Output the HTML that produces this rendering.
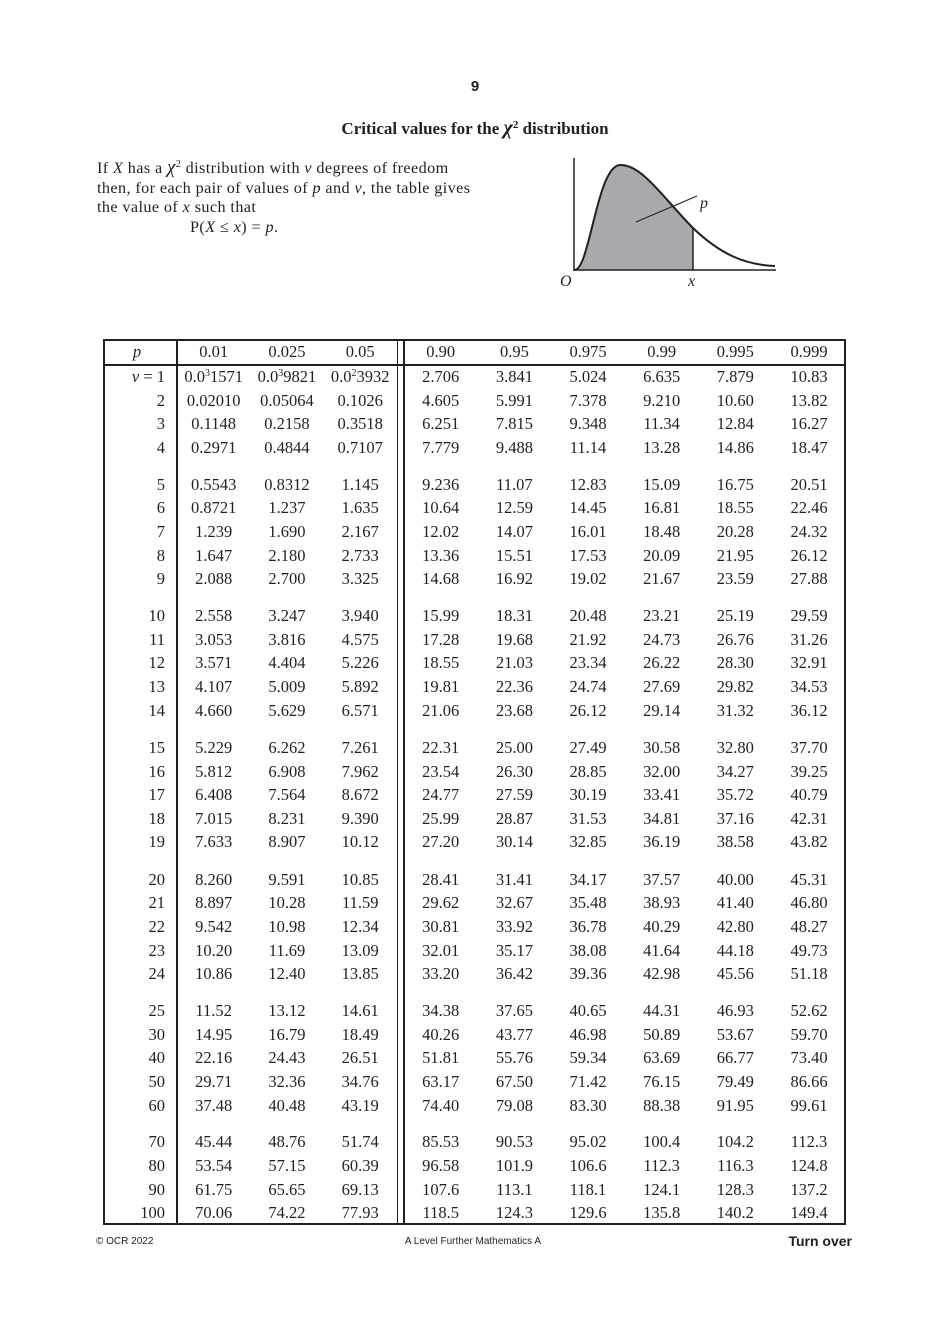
<!DOCTYPE html>
<html><head><meta charset="utf-8">
<style>
body{margin:0;background:#fff;}
#pg{position:relative;width:950px;height:1324px;overflow:hidden;font-family:"Liberation Serif",serif;color:#231f20;}
.a{position:absolute;white-space:nowrap;}
.row{position:absolute;left:103px;width:743px;height:24px;line-height:24px;font-size:16.5px;display:flex;}
.row .p{width:62px;text-align:right;padding-right:12px;}
.row .l{width:73.3px;text-align:center;}
.row .g{width:7px;}
.row .r{width:73.67px;text-align:center;}
.vl{position:absolute;background:#231f20;}
sup{font-size:10px;line-height:0;vertical-align:6px;}
</style></head><body><div id="pg">
<div class="a" style="left:0;width:950px;text-align:center;top:78px;font:bold 15px 'Liberation Sans',sans-serif;">9</div>
<div class="a" style="left:0;width:950px;text-align:center;top:117px;font-weight:bold;font-size:17px;">Critical values for the <i style="font-size:20px">χ</i><sup style="font-size:11px">2</sup> distribution</div>
<div class="a" style="left:97px;top:158px;font-size:16.2px;letter-spacing:0.4px;line-height:19.6px;">If <i>X</i> has a <i style="font-size:19px">χ</i><sup>2</sup> distribution with <i>v</i> degrees of freedom<br>then, for each pair of values of <i>p</i> and <i>v</i>, the table gives<br>the value of <i>x</i> such that<br><span style="padding-left:93px">P(<i>X</i> ≤ <i>x</i>) = <i>p</i>.</span></div>
<svg class="a" style="left:0;top:0" width="950" height="300">
<path d="M575,270 C590,268 597,166 620,165 C642,164 665,200 693,228 L693,270 Z" fill="#a7a9ac"/>
<path d="M575,270 C590,268 597,166 620,165 C642,164 665,200 693,228 C720,254 745,265 775,266" fill="none" stroke="#231f20" stroke-width="2"/>
<line x1="574" y1="158" x2="574" y2="271" stroke="#231f20" stroke-width="1.5"/>
<line x1="574" y1="270" x2="776" y2="270" stroke="#231f20" stroke-width="1.5"/>
<line x1="693" y1="228" x2="693" y2="270" stroke="#231f20" stroke-width="1.5"/>
<line x1="636" y1="222" x2="697" y2="196" stroke="#231f20" stroke-width="1"/>
<text x="700" y="208" font-family="Liberation Serif" font-style="italic" font-size="16" fill="#231f20">p</text>
<text x="560" y="286" font-family="Liberation Serif" font-style="italic" font-size="16" fill="#231f20">O</text>
<text x="688" y="286" font-family="Liberation Serif" font-style="italic" font-size="16" fill="#231f20">x</text>
</svg>
<div class="vl" style="left:103px;top:339px;width:743px;height:886px;background:none;border:2px solid #231f20;box-sizing:border-box;"></div>
<div class="vl" style="left:103px;top:364px;width:743px;height:2px"></div>
<div class="vl" style="left:176px;top:339px;width:2px;height:886px"></div>
<div class="vl" style="left:397px;top:339px;width:1px;height:886px"></div>
<div class="vl" style="left:403px;top:339px;width:2px;height:886px"></div>
<div class="row" style="top:340px"><div class="p" style="text-align:center;padding:0 6px 0 0;width:68px"><i>p</i></div><div class="l">0.01</div><div class="l">0.025</div><div class="l">0.05</div><div class="g"></div><div class="r">0.90</div><div class="r">0.95</div><div class="r">0.975</div><div class="r">0.99</div><div class="r">0.995</div><div class="r">0.999</div></div>
<div class="row" style="top:365px"><div class="p"><i>v</i> = 1</div><div class="l">0.0<sup>3</sup>1571</div><div class="l">0.0<sup>3</sup>9821</div><div class="l">0.0<sup>2</sup>3932</div><div class="g"></div><div class="r">2.706</div><div class="r">3.841</div><div class="r">5.024</div><div class="r">6.635</div><div class="r">7.879</div><div class="r">10.83</div></div>
<div class="row" style="top:389px"><div class="p">2</div><div class="l">0.02010</div><div class="l">0.05064</div><div class="l">0.1026</div><div class="g"></div><div class="r">4.605</div><div class="r">5.991</div><div class="r">7.378</div><div class="r">9.210</div><div class="r">10.60</div><div class="r">13.82</div></div>
<div class="row" style="top:412px"><div class="p">3</div><div class="l">0.1148</div><div class="l">0.2158</div><div class="l">0.3518</div><div class="g"></div><div class="r">6.251</div><div class="r">7.815</div><div class="r">9.348</div><div class="r">11.34</div><div class="r">12.84</div><div class="r">16.27</div></div>
<div class="row" style="top:436px"><div class="p">4</div><div class="l">0.2971</div><div class="l">0.4844</div><div class="l">0.7107</div><div class="g"></div><div class="r">7.779</div><div class="r">9.488</div><div class="r">11.14</div><div class="r">13.28</div><div class="r">14.86</div><div class="r">18.47</div></div>
<div class="row" style="top:473px"><div class="p">5</div><div class="l">0.5543</div><div class="l">0.8312</div><div class="l">1.145</div><div class="g"></div><div class="r">9.236</div><div class="r">11.07</div><div class="r">12.83</div><div class="r">15.09</div><div class="r">16.75</div><div class="r">20.51</div></div>
<div class="row" style="top:496px"><div class="p">6</div><div class="l">0.8721</div><div class="l">1.237</div><div class="l">1.635</div><div class="g"></div><div class="r">10.64</div><div class="r">12.59</div><div class="r">14.45</div><div class="r">16.81</div><div class="r">18.55</div><div class="r">22.46</div></div>
<div class="row" style="top:520px"><div class="p">7</div><div class="l">1.239</div><div class="l">1.690</div><div class="l">2.167</div><div class="g"></div><div class="r">12.02</div><div class="r">14.07</div><div class="r">16.01</div><div class="r">18.48</div><div class="r">20.28</div><div class="r">24.32</div></div>
<div class="row" style="top:544px"><div class="p">8</div><div class="l">1.647</div><div class="l">2.180</div><div class="l">2.733</div><div class="g"></div><div class="r">13.36</div><div class="r">15.51</div><div class="r">17.53</div><div class="r">20.09</div><div class="r">21.95</div><div class="r">26.12</div></div>
<div class="row" style="top:567px"><div class="p">9</div><div class="l">2.088</div><div class="l">2.700</div><div class="l">3.325</div><div class="g"></div><div class="r">14.68</div><div class="r">16.92</div><div class="r">19.02</div><div class="r">21.67</div><div class="r">23.59</div><div class="r">27.88</div></div>
<div class="row" style="top:604px"><div class="p">10</div><div class="l">2.558</div><div class="l">3.247</div><div class="l">3.940</div><div class="g"></div><div class="r">15.99</div><div class="r">18.31</div><div class="r">20.48</div><div class="r">23.21</div><div class="r">25.19</div><div class="r">29.59</div></div>
<div class="row" style="top:628px"><div class="p">11</div><div class="l">3.053</div><div class="l">3.816</div><div class="l">4.575</div><div class="g"></div><div class="r">17.28</div><div class="r">19.68</div><div class="r">21.92</div><div class="r">24.73</div><div class="r">26.76</div><div class="r">31.26</div></div>
<div class="row" style="top:651px"><div class="p">12</div><div class="l">3.571</div><div class="l">4.404</div><div class="l">5.226</div><div class="g"></div><div class="r">18.55</div><div class="r">21.03</div><div class="r">23.34</div><div class="r">26.22</div><div class="r">28.30</div><div class="r">32.91</div></div>
<div class="row" style="top:675px"><div class="p">13</div><div class="l">4.107</div><div class="l">5.009</div><div class="l">5.892</div><div class="g"></div><div class="r">19.81</div><div class="r">22.36</div><div class="r">24.74</div><div class="r">27.69</div><div class="r">29.82</div><div class="r">34.53</div></div>
<div class="row" style="top:699px"><div class="p">14</div><div class="l">4.660</div><div class="l">5.629</div><div class="l">6.571</div><div class="g"></div><div class="r">21.06</div><div class="r">23.68</div><div class="r">26.12</div><div class="r">29.14</div><div class="r">31.32</div><div class="r">36.12</div></div>
<div class="row" style="top:736px"><div class="p">15</div><div class="l">5.229</div><div class="l">6.262</div><div class="l">7.261</div><div class="g"></div><div class="r">22.31</div><div class="r">25.00</div><div class="r">27.49</div><div class="r">30.58</div><div class="r">32.80</div><div class="r">37.70</div></div>
<div class="row" style="top:760px"><div class="p">16</div><div class="l">5.812</div><div class="l">6.908</div><div class="l">7.962</div><div class="g"></div><div class="r">23.54</div><div class="r">26.30</div><div class="r">28.85</div><div class="r">32.00</div><div class="r">34.27</div><div class="r">39.25</div></div>
<div class="row" style="top:783px"><div class="p">17</div><div class="l">6.408</div><div class="l">7.564</div><div class="l">8.672</div><div class="g"></div><div class="r">24.77</div><div class="r">27.59</div><div class="r">30.19</div><div class="r">33.41</div><div class="r">35.72</div><div class="r">40.79</div></div>
<div class="row" style="top:807px"><div class="p">18</div><div class="l">7.015</div><div class="l">8.231</div><div class="l">9.390</div><div class="g"></div><div class="r">25.99</div><div class="r">28.87</div><div class="r">31.53</div><div class="r">34.81</div><div class="r">37.16</div><div class="r">42.31</div></div>
<div class="row" style="top:830px"><div class="p">19</div><div class="l">7.633</div><div class="l">8.907</div><div class="l">10.12</div><div class="g"></div><div class="r">27.20</div><div class="r">30.14</div><div class="r">32.85</div><div class="r">36.19</div><div class="r">38.58</div><div class="r">43.82</div></div>
<div class="row" style="top:868px"><div class="p">20</div><div class="l">8.260</div><div class="l">9.591</div><div class="l">10.85</div><div class="g"></div><div class="r">28.41</div><div class="r">31.41</div><div class="r">34.17</div><div class="r">37.57</div><div class="r">40.00</div><div class="r">45.31</div></div>
<div class="row" style="top:891px"><div class="p">21</div><div class="l">8.897</div><div class="l">10.28</div><div class="l">11.59</div><div class="g"></div><div class="r">29.62</div><div class="r">32.67</div><div class="r">35.48</div><div class="r">38.93</div><div class="r">41.40</div><div class="r">46.80</div></div>
<div class="row" style="top:915px"><div class="p">22</div><div class="l">9.542</div><div class="l">10.98</div><div class="l">12.34</div><div class="g"></div><div class="r">30.81</div><div class="r">33.92</div><div class="r">36.78</div><div class="r">40.29</div><div class="r">42.80</div><div class="r">48.27</div></div>
<div class="row" style="top:939px"><div class="p">23</div><div class="l">10.20</div><div class="l">11.69</div><div class="l">13.09</div><div class="g"></div><div class="r">32.01</div><div class="r">35.17</div><div class="r">38.08</div><div class="r">41.64</div><div class="r">44.18</div><div class="r">49.73</div></div>
<div class="row" style="top:962px"><div class="p">24</div><div class="l">10.86</div><div class="l">12.40</div><div class="l">13.85</div><div class="g"></div><div class="r">33.20</div><div class="r">36.42</div><div class="r">39.36</div><div class="r">42.98</div><div class="r">45.56</div><div class="r">51.18</div></div>
<div class="row" style="top:999px"><div class="p">25</div><div class="l">11.52</div><div class="l">13.12</div><div class="l">14.61</div><div class="g"></div><div class="r">34.38</div><div class="r">37.65</div><div class="r">40.65</div><div class="r">44.31</div><div class="r">46.93</div><div class="r">52.62</div></div>
<div class="row" style="top:1023px"><div class="p">30</div><div class="l">14.95</div><div class="l">16.79</div><div class="l">18.49</div><div class="g"></div><div class="r">40.26</div><div class="r">43.77</div><div class="r">46.98</div><div class="r">50.89</div><div class="r">53.67</div><div class="r">59.70</div></div>
<div class="row" style="top:1046px"><div class="p">40</div><div class="l">22.16</div><div class="l">24.43</div><div class="l">26.51</div><div class="g"></div><div class="r">51.81</div><div class="r">55.76</div><div class="r">59.34</div><div class="r">63.69</div><div class="r">66.77</div><div class="r">73.40</div></div>
<div class="row" style="top:1070px"><div class="p">50</div><div class="l">29.71</div><div class="l">32.36</div><div class="l">34.76</div><div class="g"></div><div class="r">63.17</div><div class="r">67.50</div><div class="r">71.42</div><div class="r">76.15</div><div class="r">79.49</div><div class="r">86.66</div></div>
<div class="row" style="top:1094px"><div class="p">60</div><div class="l">37.48</div><div class="l">40.48</div><div class="l">43.19</div><div class="g"></div><div class="r">74.40</div><div class="r">79.08</div><div class="r">83.30</div><div class="r">88.38</div><div class="r">91.95</div><div class="r">99.61</div></div>
<div class="row" style="top:1130px"><div class="p">70</div><div class="l">45.44</div><div class="l">48.76</div><div class="l">51.74</div><div class="g"></div><div class="r">85.53</div><div class="r">90.53</div><div class="r">95.02</div><div class="r">100.4</div><div class="r">104.2</div><div class="r">112.3</div></div>
<div class="row" style="top:1154px"><div class="p">80</div><div class="l">53.54</div><div class="l">57.15</div><div class="l">60.39</div><div class="g"></div><div class="r">96.58</div><div class="r">101.9</div><div class="r">106.6</div><div class="r">112.3</div><div class="r">116.3</div><div class="r">124.8</div></div>
<div class="row" style="top:1178px"><div class="p">90</div><div class="l">61.75</div><div class="l">65.65</div><div class="l">69.13</div><div class="g"></div><div class="r">107.6</div><div class="r">113.1</div><div class="r">118.1</div><div class="r">124.1</div><div class="r">128.3</div><div class="r">137.2</div></div>
<div class="row" style="top:1201px"><div class="p">100</div><div class="l">70.06</div><div class="l">74.22</div><div class="l">77.93</div><div class="g"></div><div class="r">118.5</div><div class="r">124.3</div><div class="r">129.6</div><div class="r">135.8</div><div class="r">140.2</div><div class="r">149.4</div></div>
<div class="a" style="left:96px;top:1236px;font:10px 'Liberation Sans',sans-serif;">© OCR 2022</div>
<div class="a" style="left:0;width:946px;text-align:center;top:1236px;font:10px 'Liberation Sans',sans-serif;">A Level Further Mathematics A</div>
<div class="a" style="right:98px;top:1233px;font:bold 14px 'Liberation Sans',sans-serif;">Turn over</div>
</div></body></html>
